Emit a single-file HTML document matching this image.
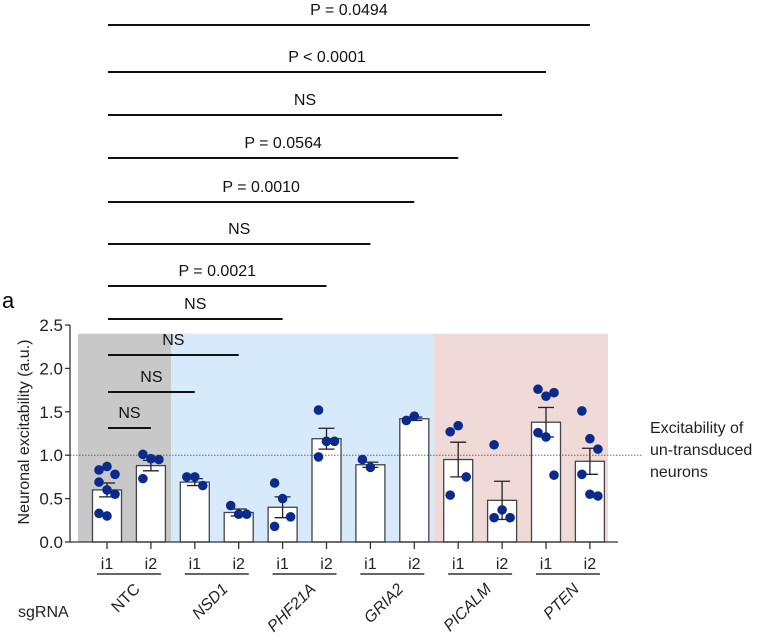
<!DOCTYPE html>
<html><head><meta charset="utf-8"><style>
body{margin:0;background:#fff}
svg{display:block;font-family:"Liberation Sans",Arial,sans-serif}
</style></head><body>
<svg id="chart" width="763" height="638" viewBox="0 0 763 638">
<text x="2" y="308" font-size="22">a</text>
</svg>
<script>
const groups=["NTC","NSD1","PHF21A","GRIA2","PICALM","PTEN"];
const categories=["NTC i1","NTC i2","NSD1 i1","NSD1 i2","PHF21A i1","PHF21A i2","GRIA2 i1","GRIA2 i2","PICALM i1","PICALM i2","PTEN i1","PTEN i2"];
const means=[0.60,0.88,0.69,0.34,0.40,1.19,0.89,1.42,0.95,0.48,1.38,0.93];
const sems=[0.08,0.06,0.04,0.04,0.12,0.12,0.03,0.02,0.20,0.22,0.17,0.15];
const points=[[0.83,0.87,0.78,0.69,0.60,0.55,0.33,0.30],[1.01,0.96,0.95,0.73],[0.75,0.75,0.65],[0.42,0.32,0.32],[0.68,0.50,0.29,0.18],[1.52,1.16,1.16,0.98],[0.95,0.86],[1.40,1.45],[1.27,1.34,0.75,0.54],[1.12,0.37,0.28,0.28],[1.76,1.68,1.72,1.26,1.21,0.77],[1.51,1.19,1.07,0.78,0.55,0.53]];
const yTicks=[0,0.5,1.0,1.5,2.0,2.5];
const compLabels=["P = 0.0494","P < 0.0001","NS","P = 0.0564","P = 0.0010","NS","P = 0.0021","NS","NS","NS","NS"];
const compTargets=[11,10,9,8,7,6,5,4,3,2,1];
const compLevels=[25,72,115,158,202,244,286,319,355,392,428];
const refLevel=1.0;
const svg=document.getElementById('chart');
const NS='http://www.w3.org/2000/svg';
function mk(t,a,p){const e=document.createElementNS(NS,t);for(const k in a)e.setAttribute(k,a[k]);(p||svg).appendChild(e);return e;}
const y=v=>542-v*86.8;
const x=i=>107+i*43.9;
const bw=29;
let e;
e=mk('rect',{x:78,y:y(2.4),width:93,height:y(0)-y(2.4),fill:'#c8c8c8'});


e=mk('rect',{x:171,y:y(2.4),width:263,height:y(0)-y(2.4),fill:'#d6eafb'});


e=mk('rect',{x:434,y:y(2.4),width:174,height:y(0)-y(2.4),fill:'#f0dad8'});


categories.forEach((c,i)=>{
 const b=mk('rect',{x:x(i)-bw/2,y:y(means[i]),width:bw,height:y(0)-y(means[i]),fill:'#fff',stroke:'#444','stroke-width':1.3});
 
 
});
e=mk('line',{x1:70,x2:643,y1:y(refLevel),y2:y(refLevel),stroke:'#555','stroke-width':0.8,'stroke-dasharray':'1.5 1.5'});


categories.forEach((c,i)=>{
 const g=mk('g',{stroke:'#222','stroke-width':1.3});
 
 
 const t=y(means[i]+sems[i]),b=y(means[i]-sems[i]);
 mk('line',{x1:x(i),x2:x(i),y1:t,y2:b},g);
 mk('line',{x1:x(i)-8,x2:x(i)+8,y1:t,y2:t},g);
 mk('line',{x1:x(i)-8,x2:x(i)+8,y1:b,y2:b},g);
 const n=points[i].length;
 points[i].forEach((v,j)=>{
  const off=n>1?(j%3-1)*8:0;
  const d=mk('circle',{cx:x(i)+off,cy:y(v),r:4.8,fill:'#0a2a8c'});
  
  
 });
});
e=mk('line',{x1:70,x2:70,y1:y(2.5),y2:y(0),stroke:'#333','stroke-width':1.3});


e=mk('line',{x1:70,x2:618,y1:y(0),y2:y(0),stroke:'#333','stroke-width':1.3});


yTicks.forEach(v=>{
 mk('line',{x1:65,x2:70,y1:y(v),y2:y(v),stroke:'#333','stroke-width':1.3});
 const t=mk('text',{x:63,y:y(v)+6,'text-anchor':'end','font-size':17,fill:'#222'});
 t.textContent=v.toFixed(1);
 
 
});
e=mk('text',{x:0,y:0,transform:'translate(29,432) rotate(-90)','text-anchor':'middle','font-size':16,fill:'#222'});
e.textContent='Neuronal excitability (a.u.)';


categories.forEach((c,i)=>{
 mk('line',{x1:x(i),x2:x(i),y1:542,y2:549,stroke:'#333','stroke-width':1.3});
 const t=mk('text',{x:x(i),y:569,'text-anchor':'middle','font-size':16,fill:'#222'});
 t.textContent=c.split(' ')[1];
 
 
});
groups.forEach((g,k)=>{
 const cx=(x(2*k)+x(2*k+1))/2;
 mk('line',{x1:cx-32,x2:cx+32,y1:574,y2:574,stroke:'#333','stroke-width':1.5});
 const t=mk('text',{x:0,y:0,transform:`translate(${cx+12},590) rotate(-45)`,'text-anchor':'end','font-size':16,fill:'#222','font-style':g==='NTC'?'normal':'italic'});
 t.textContent=g;
 
 
});
e=mk('text',{x:18,y:617,'font-size':16,fill:'#222'});
e.textContent='sgRNA';


['Excitability of','un-transduced','neurons'].forEach((s,k)=>{
 const t=mk('text',{x:650,y:433+k*22,'font-size':16,fill:'#222'});
 t.textContent=s;
 
 
});
compLabels.forEach((s,k)=>{
 const x1=x(0)+1,x2=x(compTargets[k]),yy=compLevels[k];
 const l=mk('line',{x1:x1,x2:x2,y1:yy,y2:yy,stroke:'#111','stroke-width':2});
 
 
 const t=mk('text',{x:(x1+x2)/2,y:yy-10,'text-anchor':'middle','font-size':16,fill:'#111'});
 t.textContent=s;
 
 
});
</script>
</body></html>
